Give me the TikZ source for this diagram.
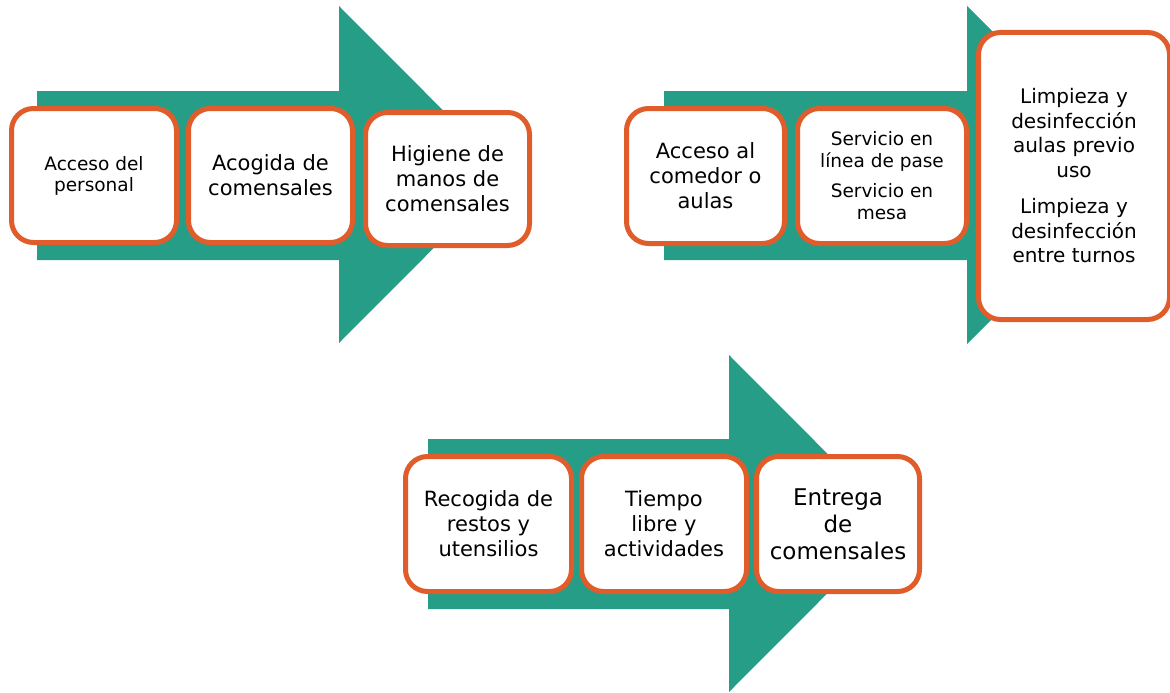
\documentclass[tikz,border=0pt]{standalone}
\usepackage{fontspec}
\setmainfont{DejaVu Sans}
\definecolor{arrowteal}{RGB}{37,157,135}
\definecolor{boxorange}{RGB}{224,92,42}

\begin{document}
\begin{tikzpicture}[x=1pt,y=-1pt,
    flow/.style ={fill=arrowteal, draw=none},
    stage/.style ={draw=boxorange, line width=5pt, fill=white, rounded corners=22pt,
      align=center, inner sep=2pt, minimum width=164pt, minimum height=134pt,
      font=\fontsize{21}{25}\selectfont}]
   \useasboundingbox (0,0) rectangle (1170,693);

   % arrows
   \fill[flow] (37,91) -- (339,91) -- (339,6) -- (507,174.5) -- (339,343) -- (339,260) -- (37,260) -- cycle;
   \fill[flow] (664,91) -- (967,91) -- (967,6) -- (1136,175) -- (967,344) -- (967,260) -- (664,260) -- cycle;
   \fill[flow] (428,439) -- (729,439) -- (729,355) -- (897,523.5) -- (729,692) -- (729,609) -- (428,609) -- cycle;

   % first row
   \node[stage, minimum width=165pt, font=\fontsize{18.5}{21}\selectfont] (A) at (94,175.5) {Acceso del\\personal};
   \node[stage] (B) at (270.5,175.5) {Acogida de\\comensales};
   \node[stage, minimum height=133pt] (C) at (447.5,179) {Higiene de\\manos de\\comensales};

   \node[stage, minimum width=158pt, minimum height=135pt] (D) at (705.5,176) {Acceso al\\comedor o\\aulas};
   \node[stage, minimum width=169pt, minimum height=135pt, font=\fontsize{18.5}{22}\selectfont] (E) at (882,176)
      {Servicio en\\línea de pase\\[8pt]Servicio en\\mesa};
   \node[stage, minimum width=191pt, minimum height=287pt, font=\fontsize{20}{24.5}\selectfont] (F) at (1074,176)
      {Limpieza y\\desinfección\\aulas previo\\uso\\[12pt]Limpieza y\\desinfección\\entre turnos};

   % second row
   \node[stage, minimum width=166pt, minimum height=135pt] (G) at (488.5,524) {Recogida de\\restos y\\utensilios};
   \node[stage, minimum width=165pt, minimum height=135pt] (H) at (664,524) {Tiempo\\libre y\\actividades};
   \node[stage, minimum width=163pt, minimum height=135pt, font=\fontsize{23}{27}\selectfont] (I) at (838,524)
      {Entrega\\de\\comensales};
 \end{tikzpicture}
\end{document}
